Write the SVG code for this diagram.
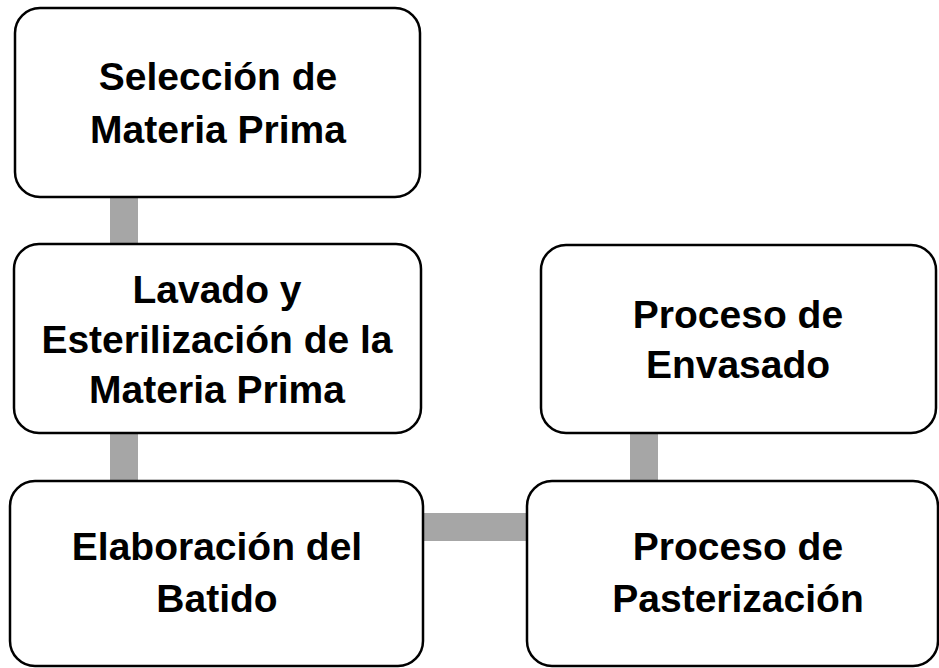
<svg xmlns="http://www.w3.org/2000/svg" width="939" height="668" viewBox="0 0 939 668">
<style>
.box{fill:#ffffff;stroke:#000000;stroke-width:2.5}
.lbl{font-family:"Liberation Sans",Arial,sans-serif;font-weight:bold;font-size:39px;fill:#000000;text-anchor:middle}
.con{fill:#a6a6a6}
</style>
<rect width="939" height="668" fill="#ffffff"/>
<g id="connectors">
<rect class="con" x="110" y="196" width="28" height="49"/>
<rect class="con" x="110" y="432" width="28" height="50"/>
<rect class="con" x="422" y="513" width="106" height="28"/>
<rect class="con" x="630" y="432" width="28" height="50"/>
</g>
<g id="node1">
<rect class="box" x="15" y="8" width="405" height="189" rx="25"/>
<text class="lbl" x="218" y="90">Selección de</text>
<text class="lbl" x="218" y="143">Materia Prima</text>
</g>
<g id="node2">
<rect class="box" x="14" y="244" width="407" height="189" rx="25"/>
<text class="lbl" x="217" y="303">Lavado y</text>
<text class="lbl" x="217" y="353">Esterilización de la</text>
<text class="lbl" x="217" y="403">Materia Prima</text>
</g>
<g id="node3">
<rect class="box" x="10" y="481" width="413" height="185" rx="25"/>
<text class="lbl" x="217" y="560">Elaboración del</text>
<text class="lbl" x="217" y="612">Batido</text>
</g>
<g id="node4">
<rect class="box" x="541" y="245" width="395" height="188" rx="25"/>
<text class="lbl" x="738" y="328">Proceso de</text>
<text class="lbl" x="738" y="378">Envasado</text>
</g>
<g id="node5">
<rect class="box" x="527" y="481" width="411" height="185" rx="25"/>
<text class="lbl" x="738" y="560">Proceso de</text>
<text class="lbl" x="738" y="612">Pasterización</text>
</g>
</svg>
